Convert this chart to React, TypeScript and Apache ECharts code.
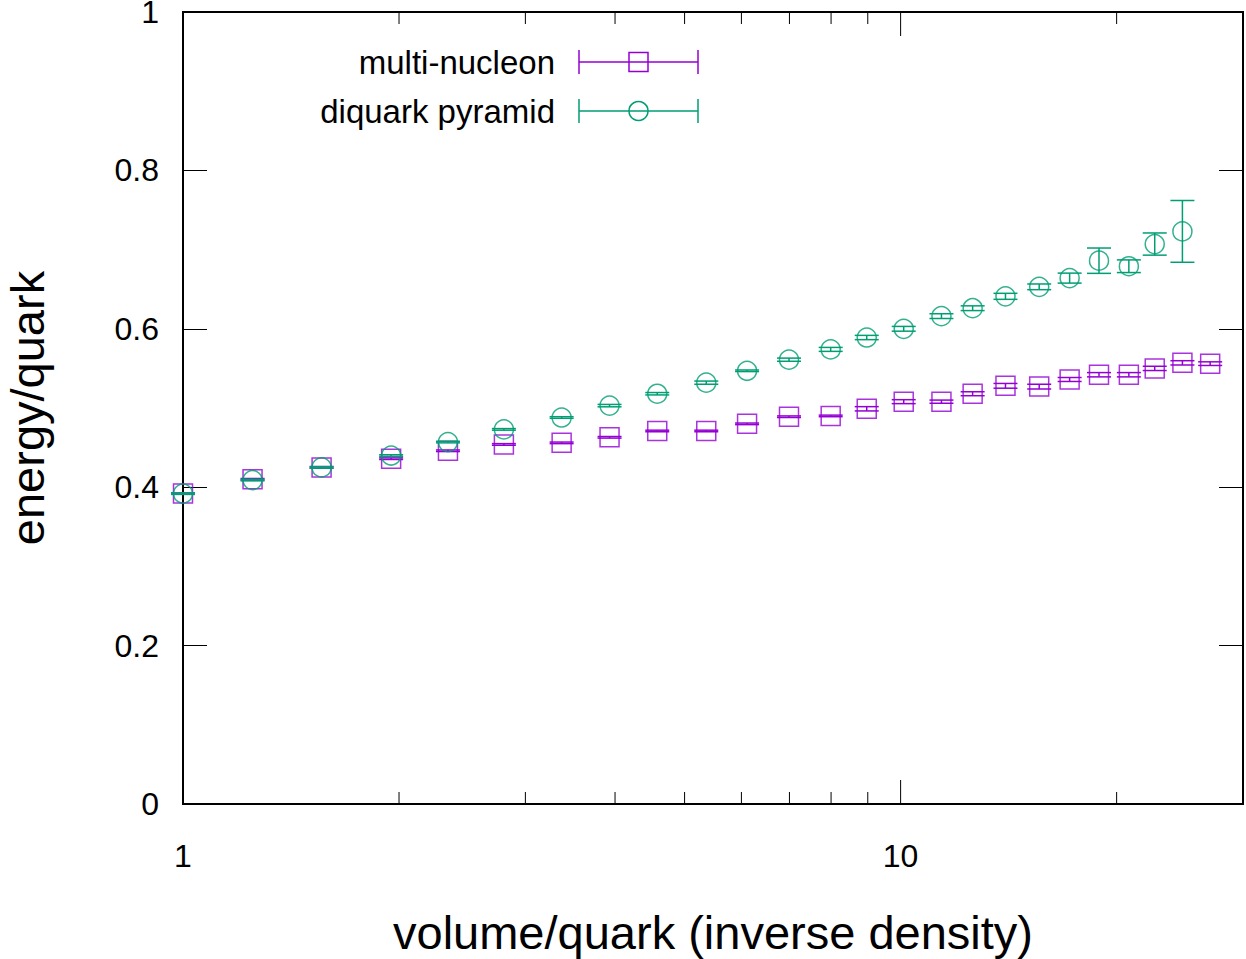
import React, { useEffect, useRef } from "react";
import * as echarts from "echarts";

// Volume per quark (log scale), shared by both series
const volumePerQuark = [
  1.0, 1.25, 1.56, 1.95, 2.34, 2.8, 3.37, 3.93, 4.58, 5.36, 6.11, 6.99, 7.99,
  8.97, 10.1, 11.4, 12.6, 14.0, 15.6, 17.2, 18.9, 20.8, 22.6, 24.7, 27.0,
];

// Energy per quark, multi-nucleon configuration
const multiNucleonEnergy = [
  0.392, 0.41, 0.425, 0.436, 0.446, 0.454, 0.456, 0.463, 0.471, 0.471, 0.48,
  0.489, 0.49, 0.499, 0.508, 0.508, 0.518, 0.528, 0.527, 0.536, 0.542, 0.542,
  0.55, 0.557, 0.556,
];
const multiNucleonError = [
  0.001, 0.001, 0.001, 0.001, 0.001, 0.001, 0.001, 0.001, 0.001, 0.001, 0.001,
  0.001, 0.001, 0.0027, 0.0025, 0.002, 0.0025, 0.003, 0.003, 0.0025, 0.0027,
  0.0027, 0.0027, 0.0027, 0.0023,
];

// Energy per quark, diquark pyramid configuration
const diquarkEnergy = [
  0.392, 0.409, 0.425, 0.44, 0.457, 0.473, 0.488, 0.503, 0.518, 0.532, 0.547,
  0.561, 0.574, 0.589, 0.6, 0.616, 0.626, 0.641, 0.653, 0.664, 0.686, 0.679,
  0.707, 0.723,
];
const diquarkError = [
  0.001, 0.001, 0.001, 0.001, 0.001, 0.001, 0.001, 0.0015, 0.0015, 0.002,
  0.001, 0.002, 0.0025, 0.0027, 0.003, 0.003, 0.003, 0.0038, 0.0036, 0.0063,
  0.016, 0.008, 0.014, 0.039,
];

// Axis ticks and labels
const xLabelValues = [1, 10];
const xMajorTicks = [1, 10];
const xMinorTicks = [2, 3, 4, 5, 6, 7, 8, 9, 20];
const X_MIN = 1;
const X_MAX = 30;
const Y_MIN = 0;
const Y_MAX = 1;
const Y_STEP = 0.2;

const PURPLE = "#9400d3";
const GREEN = "#009e73";
const FONT = "'Liberation Sans', Arial, Helvetica, sans-serif";

function errorBarSeries(
  xs: number[],
  ys: number[],
  errs: number[],
  color: string,
  z: number
) {
  return {
    type: "custom",
    z,
    silent: true,
    clip: false,
    data: ys.map((y, i) => [xs[i], y, errs[i]]),
    encode: { x: 0, y: 1 },
    renderItem: (_params: any, api: any) => {
      const x = api.value(0);
      const y = api.value(1);
      const e = api.value(2);
      const lo = api.coord([x, y - e]);
      const hi = api.coord([x, y + e]);
      const half = 12;
      const style = { stroke: color, lineWidth: 1.5 };
      return {
        type: "group",
        children: [
          { type: "line", shape: { x1: lo[0], y1: lo[1], x2: hi[0], y2: hi[1] }, style },
          { type: "line", shape: { x1: lo[0] - half, y1: lo[1], x2: lo[0] + half, y2: lo[1] }, style },
          { type: "line", shape: { x1: hi[0] - half, y1: hi[1], x2: hi[0] + half, y2: hi[1] }, style },
        ],
      };
    },
  };
}

function xTickSeries(values: number[], len: number) {
  return {
    type: "custom",
    z: 10,
    silent: true,
    clip: false,
    data: values.map((v) => [v, Y_MIN]),
    encode: { x: 0, y: 1 },
    renderItem: (_params: any, api: any) => {
      const v = api.value(0);
      const b = api.coord([v, Y_MIN]);
      const t = api.coord([v, Y_MAX]);
      const style = { stroke: "#000", lineWidth: 1 };
      return {
        type: "group",
        children: [
          { type: "line", shape: { x1: b[0], y1: b[1], x2: b[0], y2: b[1] - len }, style },
          { type: "line", shape: { x1: t[0], y1: t[1], x2: t[0], y2: t[1] + len }, style },
        ],
      };
    },
  };
}

// Legend entry: label, error-bar sample and marker
function legendEntry(label: string, cy: number, color: string, marker: "rect" | "circle") {
  const style = { stroke: color, lineWidth: 1.5 };
  const x1 = 579;
  const x2 = 698;
  const cx = 638.5;
  return [
    {
      type: "text",
      x: 555,
      y: cy,
      style: { text: label, align: "right", verticalAlign: "middle", font: `33px ${FONT}`, fill: "#000" },
    },
    { type: "line", shape: { x1, y1: cy, x2, y2: cy }, style },
    { type: "line", shape: { x1, y1: cy - 12, x2: x1, y2: cy + 12 }, style },
    { type: "line", shape: { x1: x2, y1: cy - 12, x2, y2: cy + 12 }, style },
    marker === "rect"
      ? { type: "rect", shape: { x: cx - 9.5, y: cy - 9.5, width: 19, height: 19 }, style: { ...style, fill: "none" } }
      : { type: "circle", shape: { cx, cy, r: 9.5 }, style: { ...style, fill: "none" } },
  ];
}

export default function App() {
  const ref = useRef<HTMLDivElement>(null);

  useEffect(() => {
    if (!ref.current) return;
    const chart = echarts.init(ref.current, undefined, { renderer: "svg" });

    const yAxisBase = {
      type: "value",
      min: Y_MIN,
      max: Y_MAX,
      interval: Y_STEP,
      splitLine: { show: false },
      axisLine: { show: false },
      axisTick: { show: true, inside: true, length: 24, lineStyle: { color: "#000", width: 1 } },
    };

    chart.setOption({
      animation: false,
      backgroundColor: "#fff",
      grid: {
        left: 183,
        right: 3,
        top: 12,
        bottom: 155,
        outerBoundsMode: "none",
        containLabel: false,
        show: true,
        borderColor: "#000",
        borderWidth: 2,
        backgroundColor: "transparent",
      },
      xAxis: {
        type: "log",
        logBase: 10,
        min: X_MIN,
        max: X_MAX,
        splitLine: { show: false },
        axisLine: { show: false },
        axisTick: { show: false },
        axisLabel: {
          margin: 36,
          fontSize: 32,
          fontFamily: FONT,
          color: "#000",
          formatter: (v: number) =>
            xLabelValues.some((lv) => Math.abs(lv - v) < 1e-6) ? String(Math.round(v)) : "",
        },
        name: "volume/quark (inverse density)",
        nameLocation: "middle",
        nameGap: 105,
        nameTextStyle: { fontSize: 47, fontFamily: FONT, color: "#000" },
      },
      yAxis: [
        {
          ...yAxisBase,
          position: "left",
          axisLabel: { margin: 24, fontSize: 32, lineHeight: 22, fontFamily: FONT, color: "#000" },
          name: "energy/quark",
          nameLocation: "middle",
          nameGap: 136,
          nameTextStyle: { fontSize: 47, lineHeight: 40, fontFamily: FONT, color: "#000" },
        },
        {
          ...yAxisBase,
          position: "right",
          axisLabel: { show: false },
        },
      ],
      series: [
        xTickSeries(xMajorTicks, 24),
        xTickSeries(xMinorTicks, 12),
        errorBarSeries(volumePerQuark, multiNucleonEnergy, multiNucleonError, PURPLE, 2),
        {
          type: "scatter",
          name: "multi-nucleon",
          z: 3,
          symbol: "rect",
          symbolSize: 19,
          data: multiNucleonEnergy.map((y, i) => [volumePerQuark[i], y]),
          itemStyle: { color: "rgba(0,0,0,0)", borderColor: PURPLE, borderWidth: 1.5 },
          silent: true,
        },
        errorBarSeries(volumePerQuark, diquarkEnergy, diquarkError, GREEN, 4),
        {
          type: "scatter",
          name: "diquark pyramid",
          z: 5,
          symbol: "circle",
          symbolSize: 19,
          data: diquarkEnergy.map((y, i) => [volumePerQuark[i], y]),
          itemStyle: { color: "rgba(0,0,0,0)", borderColor: GREEN, borderWidth: 1.5 },
          silent: true,
        },
      ],
      graphic: [
        ...legendEntry("multi-nucleon", 62, PURPLE, "rect"),
        ...legendEntry("diquark pyramid", 111, GREEN, "circle"),
      ],
    });

    return () => chart.dispose();
  }, []);

  return (
    <div
      ref={ref}
      style={{ position: "absolute", left: 0, top: 0, width: 1246, height: 959 }}
    />
  );
}
